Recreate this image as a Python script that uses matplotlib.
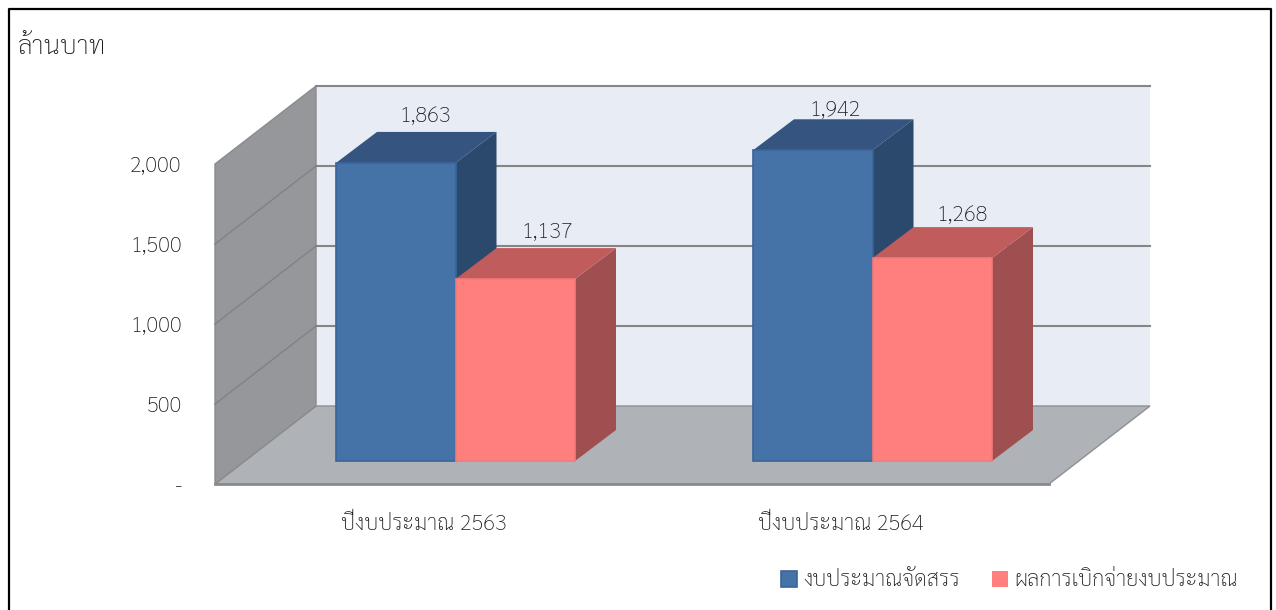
import matplotlib
matplotlib.use('Agg')
import matplotlib.pyplot as plt
from matplotlib.lines import Line2D
from matplotlib.patches import Patch, Polygon
from matplotlib.transforms import Affine2D

plt.rcParams['font.family'] = ['Sarabun', 'Loma', 'DejaVu Sans']

years = ['ปีงบประมาณ 2563', 'ปีงบประมาณ 2564']
allocated = [1863, 1942]
spent = [1137, 1268]
series_names = ['งบประมาณจัดสรร', 'ผลการเบิกจ่ายงบประมาณ']
unit_label = 'ล้านบาท'
y_ticks = [0, 500, 1000, 1500, 2000]
y_tick_labels = ['-', '500', '1,000', '1,500', '2,000']

W, H = 1276, 610
TEXT = '#1a1a1a'
WEIGHT = 'light'
FS = 15.8

fig = plt.figure(figsize=(W / 100, H / 100), dpi=100)
ax = fig.add_axes([215 / W, (H - 484) / H, 834 / W, 320 / H])
ax.set_xlim(-0.5, 1.5)
ax.set_ylim(0, 2000)
for s in ax.spines.values():
    s.set_visible(False)
ax.patch.set_visible(False)


def shifted(dx, dy):
    # offset in pixels from the front plane, this is the fake 3d depth
    return ax.transData + Affine2D().translate(dx, dy)


def face(pts, color, z, edge='none', lw=0):
    # each point is (x, y, dx, dy)
    trans = ax.transData
    disp = [trans.transform((p[0], p[1])) + (p[2], p[3]) for p in pts]
    ax.add_patch(Polygon(disp, closed=True, transform=Affine2D(), facecolor=color,
                         edgecolor=edge, lw=lw, zorder=z, clip_on=False, joinstyle='miter'))


x0, x1 = ax.get_xlim()
y_top = ax.get_ylim()[1]
wall_dx, wall_dy = 101, 78

# back wall, floor, side wall
face([(x0, 0, wall_dx, wall_dy), (x1, 0, wall_dx, wall_dy), (x1, y_top, wall_dx, wall_dy),
      (x0, y_top, wall_dx, wall_dy)], '#E8ECF5', 1)
face([(x0, 0, 0, 0), (x1, 0, 0, 0), (x1, 0, wall_dx, wall_dy), (x0, 0, wall_dx, wall_dy)],
     '#AFB2B6', 1, edge='#8E9094', lw=1)
face([(x0, 0, 0, 0), (x0, y_top, 0, 0), (x0, y_top, wall_dx, wall_dy), (x0, 0, wall_dx, wall_dy)],
     '#96979A', 2, edge='#8A8B8E', lw=1)

# grid lines on back and side wall
for v in y_ticks[1:]:
    ax.plot([x0, x1], [v, v], color='#868686', lw=1.5, zorder=2.5, clip_on=False,
            transform=shifted(wall_dx, wall_dy))
    if v < y_top:
        a = ax.transData.transform((x0, v))
        ax.add_line(Line2D([a[0], a[0] + wall_dx], [a[1], a[1] + wall_dy], transform=Affine2D(),
                           color='#808184', lw=1, zorder=2.5, clip_on=False))
ax.plot([x0, x1], [0, 0], color='#8A8B8E', lw=2, zorder=2.6, clip_on=False)

# bars
bar_w = 119.5 / 417
base_dx, base_dy = 32, 23
dep_x, dep_y = 41, 31


def bar3d(left, value, front, top, side, edge, z):
    right = left + bar_w
    bx, by = base_dx, base_dy
    bx2, by2 = base_dx + dep_x, base_dy + dep_y
    face([(right, 0, bx, by), (right, 0, bx2, by2), (right, value, bx2, by2), (right, value, bx, by)],
         side, z)
    face([(left, value, bx, by), (right, value, bx, by), (right, value, bx2, by2), (left, value, bx2, by2)],
         top, z)
    face([(left, 0, bx, by), (right, 0, bx, by), (right, value, bx, by), (left, value, bx, by)],
         front, z + 0.1, edge=edge, lw=1.2)


for i in range(len(years)):
    bar3d(i - bar_w, allocated[i], '#4572A7', '#35547F', '#2B486D', '#3A649A', 3 + i)
    bar3d(i, spent[i], '#FF7F7F', '#C05C5C', '#9F4F4F', '#F47A7A', 3.5 + i)

# value labels sit above the top face, the 2nd blue one is a bit lower in the original
label_nudge = [[(1, 0), (4, 0)], [(-6, -7), (2, -4)]]
for i in range(len(years)):
    for j, vals in enumerate([allocated, spent]):
        left = i - bar_w + j * bar_w
        dx, dy = label_nudge[i][j]
        ax.annotate(f'{vals[i]:,}', (left + bar_w / 2, vals[i]), xycoords='data',
                    xytext=(60 + dx, 70 + dy), textcoords='offset pixels',
                    ha='center', va='center', fontsize=FS, color=TEXT, weight=WEIGHT, zorder=10,
                    annotation_clip=False)

ax.set_yticks(y_ticks)
ax.set_yticklabels(y_tick_labels, fontsize=FS, color=TEXT, weight=WEIGHT)
ax.set_xticks(range(len(years)))
ax.set_xticklabels(years, fontsize=FS, color=TEXT, weight=WEIGHT)
ax.tick_params(axis='y', length=0, pad=24)
ax.tick_params(axis='x', length=0, pad=21.2)

fig.text(18 / W, (H - 48) / H, unit_label, fontsize=18.8, color=TEXT, weight=WEIGHT, ha='left', va='center')

handles = [Patch(facecolor='#4572A7', edgecolor='#3A649A', lw=1.2),
           Patch(facecolor='#FF7F7F', edgecolor='#FF7F7F', lw=0)]
fig.legend(handles, series_names, ncols=2, loc='center right', bbox_to_anchor=(1238 / W, (H - 581) / H),
           frameon=False, prop={'size': FS, 'weight': WEIGHT}, labelcolor=TEXT,
           handlelength=0.75, handleheight=0.75, handletextpad=0.28, columnspacing=1.45, borderpad=0, borderaxespad=0)

# outer frame, runs off the bottom of the image
frame_x = [8.5 / W, 8.5 / W, 1271 / W, 1271 / W]
frame_y = [-0.01, (H - 9) / H, (H - 9) / H, -0.01]
fig.add_artist(Line2D(frame_x, frame_y, color='black', lw=1.6, transform=fig.transFigure))

fig.savefig('out.png', dpi=100, facecolor='white')
